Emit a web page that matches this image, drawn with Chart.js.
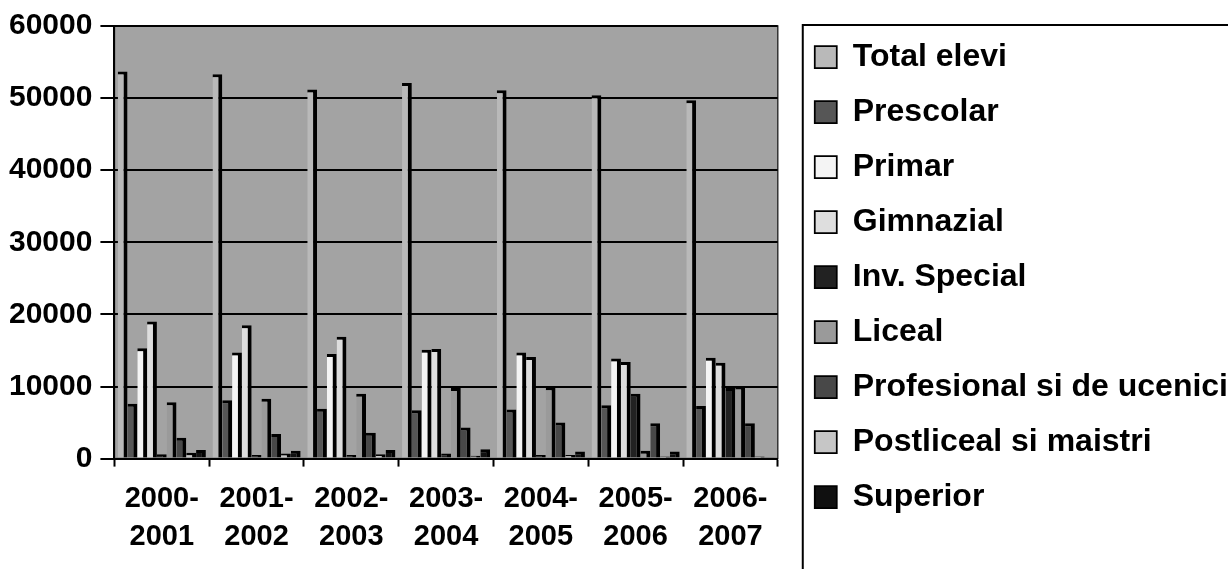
<!DOCTYPE html>
<html>
<head>
<meta charset="utf-8">
<script src="https://cdn.jsdelivr.net/npm/chart.js@4/dist/chart.umd.min.js"></script>
<style>
  html, body { margin: 0; padding: 0; background: #fff; }
  #wrap { width: 1228px; height: 569px; }
</style>
</head>
<body>
<div id="wrap"><canvas id="myChart"></canvas></div>
<script>
// school years (x axis)
const years = [['2000-', '2001'], ['2001-', '2002'], ['2002-', '2003'], ['2003-', '2004'],
    ['2004-', '2005'], ['2005-', '2006'], ['2006-', '2007']];

// values
const totalElevi   = [53700, 53300, 51200, 52100, 51100, 50400, 49700];
const prescolar    = [7600, 8100, 6900, 6700, 6800, 7400, 7300];
const primar       = [15300, 14700, 14500, 15100, 14700, 13900, 14000];
const gimnazial    = [19000, 18500, 16900, 15200, 14100, 13400, 13300];
const invSpecial   = [600, 500, 500, 700, 500, 9000, 9800];
const liceal       = [7800, 8300, 9000, 9800, 9900, 1100, 10000];
const profesional  = [2900, 3400, 3600, 4300, 5000, 4900, 4900];
const postliceal   = [800, 700, 600, 400, 500, 300, 300];
const superior     = [1200, 1100, 1200, 1300, 1000, 1000, 200];

const yTicks = [0, 10000, 20000, 30000, 40000, 50000, 60000];

function serie(label, values, fill) {
    return {
        label: label,
        data: values,
        backgroundColor: fill,
        borderColor: '#000',
        borderWidth: { top: 3, right: 4, left: 0, bottom: 0 },
        borderSkipped: false
    };
}

const data = {
    labels: years,
    datasets: [
        serie('Total elevi', totalElevi, '#b9b9b9'),
        serie('Prescolar', prescolar, '#565656'),
        serie('Primar', primar, '#f4f4f4'),
        serie('Gimnazial', gimnazial, '#dedede'),
        serie('Inv. Special', invSpecial, '#222222'),
        serie('Liceal', liceal, '#9a9a9a'),
        serie('Profesional si de ucenici', profesional, '#484848'),
        serie('Postliceal si maistri', postliceal, '#c6c6c6'),
        serie('Superior', superior, '#101010')
    ]
};

// grey plot background + legend frame
const decor = {
    id: 'decor',
    beforeDraw(chart) {
        const { ctx, chartArea: a } = chart;
        ctx.save();
        ctx.fillStyle = '#a3a3a3';
        ctx.fillRect(a.left, a.top, a.right - a.left, a.bottom - a.top);
        ctx.strokeStyle = '#333';
        ctx.lineWidth = 1.5;
        ctx.strokeRect(a.left, a.top, a.right - a.left, a.bottom - a.top);
        ctx.restore();
    },
    afterDraw(chart) {
        const ctx = chart.ctx;
        const lg = chart.legend;
        ctx.save();
        ctx.strokeStyle = '#000';
        ctx.lineWidth = 2;
        ctx.strokeRect(lg.left + 11, 25, 600, 600);
        ctx.restore();
    }
};

const font = { family: '"Liberation Sans", Arial, sans-serif', weight: 'bold' };

const config = {
    type: 'bar',
    data: data,
    plugins: [decor],
    options: {
        responsive: true,
        maintainAspectRatio: false,
        animation: false,
        datasets: { bar: { categoryPercentage: 0.93, barPercentage: 1.0 } },
        layout: { padding: { left: 1, top: 10, right: -10, bottom: -1 } },
        plugins: {
            tooltip: { enabled: false },
            legend: {
                position: 'right',
                align: 'start',
                maxWidth: 480,
                title: { display: true, text: '', font: { size: 1, lineHeight: 1 }, padding: { top: 7, bottom: 0 } },
                labels: {
                    color: '#000',
                    font: Object.assign({ size: 32 }, font),
                    boxWidth: 22,
                    boxHeight: 22,
                    padding: 23
                }
            }
        },
        scales: {
            x: {
                grid: {
                    offset: true,
                    drawOnChartArea: false,
                    drawTicks: true,
                    tickLength: 8,
                    tickColor: '#000',
                    tickWidth: 2
                },
                border: { display: true, color: '#000', width: 2 },
                ticks: {
                    color: '#000',
                    font: Object.assign({ size: 29, lineHeight: 1.3 }, font),
                    padding: 14,
                    maxRotation: 0,
                    autoSkip: false
                }
            },
            y: {
                min: 0,
                max: 60000,
                afterBuildTicks(axis) { axis.ticks = yTicks.map(v => ({ value: v })); },
                grid: {
                    color: '#000',
                    lineWidth: 2,
                    drawTicks: true,
                    tickLength: 14,
                    tickColor: '#000'
                },
                border: { display: true, color: '#000', width: 2 },
                ticks: {
                    color: '#000',
                    font: Object.assign({ size: 30 }, font),
                    padding: 8,
                    callback: (v) => String(v)
                }
            },
            // empty spacer between plot and legend
            spacer: {
                type: 'linear',
                position: 'right',
                display: true,
                grid: { display: false },
                border: { display: false },
                ticks: { display: false },
                afterFit(axis) { axis.width = 14; }
            }
        }
    }
};

const myChart = new Chart(document.getElementById('myChart'), config);
</script>
</body>
</html>
